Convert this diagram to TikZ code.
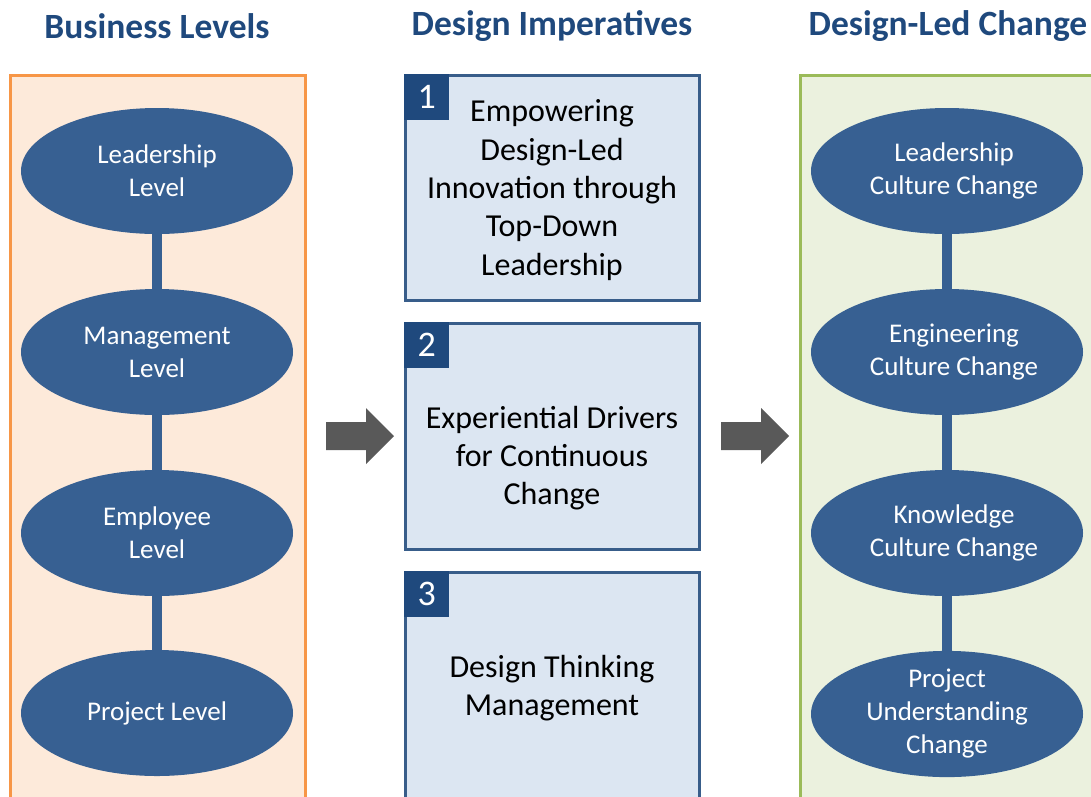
\documentclass[tikz,border=0pt]{standalone}
\usepackage{fontspec}
\setmainfont{Carlito}
\usetikzlibrary{shapes.geometric}
\definecolor{ellblue}{RGB}{55,96,146}
\definecolor{navy}{RGB}{31,73,125}
\definecolor{boxborder}{RGB}{56,93,138}
\definecolor{boxfill}{RGB}{220,230,242}
\definecolor{peach}{RGB}{253,234,218}
\definecolor{orangeb}{RGB}{247,150,70}
\definecolor{greenfill}{RGB}{235,241,222}
\definecolor{greenb}{RGB}{155,187,89}
\definecolor{arrowgray}{RGB}{89,89,89}
\tikzset{
  title/.style={text=navy, font=\fontsize{35.5}{40}\selectfont\bfseries, anchor=center},
  lvl/.style={ellipse, fill=ellblue, draw=none, minimum width=272pt, minimum height=126pt, inner sep=0pt,
    text=white, align=center, font=\fontsize{27}{33}\selectfont},
  bar/.style={draw=ellblue, line width=10pt},
  imptext/.style={align=center, font=\fontsize{32}{38.3}\selectfont, text=black},
  numbox/.style={fill=navy, draw=none, minimum width=45pt, minimum height=46pt, inner sep=0pt, anchor=north west,
    text=white, font=\fontsize{36}{38}\selectfont},
  imp/.style={fill=boxfill, draw=boxborder, line width=3pt},
  blockarrow/.style={fill=arrowgray, draw=none}
}
\begin{document}
\begin{tikzpicture}[x=1pt,y=-1pt]
\useasboundingbox (0,0) rectangle (1091,796);
% titles
\node[title] (t1) at (157,26) {Business Levels};
\node[title] (t2) at (552,26) {Design Imperatives};
\node[title] (t3) at (948,26) {Design-Led Change};
% panels
\fill[peach] (10,75) rectangle (305,800);
\draw[orangeb, line width=3pt] (10,800) -- (10,75) -- (305,75) -- (305,800);
\fill[greenfill] (800,75) rectangle (1095,800);
\draw[greenb, line width=3pt] (800,800) -- (800,75) -- (1095,75);
% left ellipses
\node[lvl] (l1) at (157,171) {Leadership\\Level};
\node[lvl] (l2) at (157,352) {Management\\Level};
\node[lvl] (l3) at (157,533) {Employee\\Level};
\node[lvl] (l4) at (157,713) {Project Level};
\draw[bar] (l1.south) -- (l2.north);
\draw[bar] (l2.south) -- (l3.north);
\draw[bar] (l3.south) -- (l4.north);
% right ellipses
\node[lvl] (r1) at (947,171) {\hspace*{14pt}Leadership\\\hspace*{14pt}Culture Change};
\node[lvl] (r2) at (947,352) {\hspace*{14pt}Engineering\\\hspace*{14pt}Culture Change};
\node[lvl] (r3) at (947,533) {\hspace*{14pt}Knowledge\\\hspace*{14pt}Culture Change};
\node[lvl] (r4) at (947,714) {Project\\Understanding\\Change};
\draw[bar] (r1.south) -- (r2.north);
\draw[bar] (r2.south) -- (r3.north);
\draw[bar] (r3.south) -- (r4.north);
% middle boxes
\draw[imp] (405.5,75) rectangle (699,300);
\draw[imp] (405.5,323.5) rectangle (699,549);
\draw[imp] (405.5,572.5) -- (405.5,800) (699,800) -- (699,572.5) -- (405.5,572.5);
\fill[boxfill] (407,574) rectangle (697.5,800);
\node[numbox] (n1) at (404,74) {1};
\node[numbox] (n2) at (404,322) {2};
\node[numbox] (n3) at (404,571) {3};
\node[imptext] (b1) at (552,190) {Empowering\\Design-Led\\Innovation through\\Top-Down\\Leadership};
\node[imptext] (b2) at (552,458) {Experiential Drivers\\for Continuous\\Change};
\node[imptext] (b3) at (552,688) {Design Thinking\\Management};
% arrows
\fill[blockarrow] (326,422) -- (366,422) -- (366,408) -- (394,436) -- (366,464) -- (366,450) -- (326,450) -- cycle;
\fill[blockarrow] (721,422) -- (761,422) -- (761,408) -- (789,436) -- (761,464) -- (761,450) -- (721,450) -- cycle;
\end{tikzpicture}
\end{document}
